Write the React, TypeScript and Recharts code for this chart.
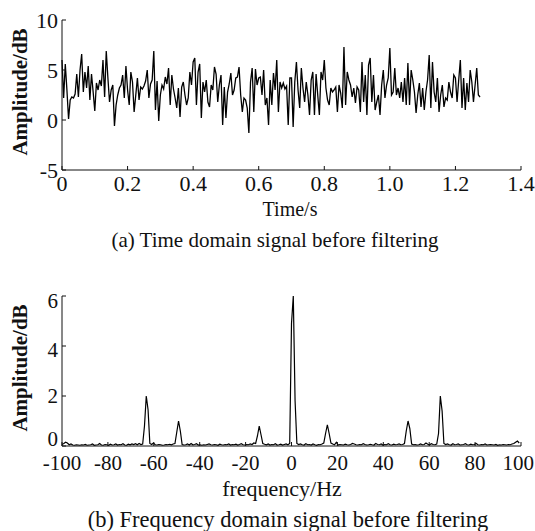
import { LineChart, Line, XAxis, YAxis } from 'recharts'

// sampled signal, 200 Hz sampling -> 0.005 s per sample
const TIME_STEP = 0.005
const TIME_VALUES = [
  6.0, 2.2, 5.6, 3.0, 0.1, 2.0, 2.3, 2.2, 2.6, 4.6, 2.3, 5.0, 6.6, 2.8, 4.8, 3.2,
  5.4, 2.0, 4.6, 2.8, 0.9, 3.7, 3.0, 4.0, 3.4, 6.0, 2.3, 6.9, 4.2, 1.8, 3.0, 3.5,
  -0.6, 1.5, 2.5, 3.2, 3.5, 4.5, 2.2, 5.4, 3.0, 1.5, 4.8, 3.8, 0.8, 2.5, 4.2, 2.0,
  3.3, 3.1, 3.4, 3.9, 5.0, 2.2, 3.6, 4.0, 6.9, 1.0, 3.9, -0.1, 2.5, 3.5, 3.1, 4.3,
  3.6, 5.2, 1.5, 4.5, 3.1, 2.2, 1.2, 3.2, 0.3, 3.3, 3.8, 2.5, 1.5, 2.2, 4.8, 3.5,
  5.8, 6.2, 1.5, 4.8, 5.6, 0.2, 3.8, 2.8, 4.0, 1.8, 1.3, 3.5, 3.0, 5.3, 4.6, 1.8,
  3.5, 4.5, -0.5, 3.3, 0.2, 2.8, 3.6, 4.7, 2.5, 3.0, 4.2, 4.3, 5.3, 2.5, 0.8, 2.2,
  2.0, 1.2, -1.3, 3.8, 5.2, 0.8, 5.1, 3.5, 4.2, 4.3, 2.5, 5.0, 1.5, 2.2, -0.5, 4.0,
  1.5, 4.7, 3.0, 6.0, 0.8, 3.8, 3.2, 3.7, 3.1, 3.4, -0.5, 4.2, 4.2, -0.7, 3.8, 5.8,
  3.0, 1.2, 5.2, 3.2, 1.8, 3.8, 2.5, 0.5, 4.0, 4.8, 0.5, 4.6, 2.5, 0.5, 4.8, 4.0,
  6.0, 3.2, 2.0, 1.5, 3.2, 2.8, 3.0, 3.3, 0.8, 3.5, 2.7, 1.2, 7.3, 1.5, 4.8, 4.0,
  3.5, 2.3, 3.2, 1.7, 3.3, 3.0, 0.8, 5.8, 1.8, 4.5, 0.5, 5.5, 6.2, 1.8, 4.5, 1.0,
  1.8, 2.5, 0.5, 3.5, 5.0, 2.2, 3.5, 4.2, 7.2, 2.5, 2.8, 5.2, 2.5, 3.2, 2.2, 3.8,
  1.8, 4.2, 1.5, 5.7, 1.5, 5.0, 4.0, 2.8, 0.7, 2.5, 3.7, 1.3, 3.2, 1.0, 2.8, 4.0,
  6.5, 1.2, 5.8, 2.8, 1.8, 4.2, 0.8, 2.5, 3.5, 1.3, 2.2, 2.0, 3.8, 2.8, 2.2, 4.5,
  4.2, 1.8, 4.0, 6.0, 1.2, 4.2, 1.0, 3.7, 1.8, 5.0, 3.8, 1.8, 3.5, 5.2, 2.5, 2.3,
]

// 256-point spectrum from -100 Hz
const FREQ_START = -100
const FREQ_STEP = 0.78125
const SPECTRUM_VALUES = [
  0.06, 0.1, 0.15, 0.12, 0.05, 0.08, 0.04, 0.03, 0.05, 0.04, 0.03, 0.05, 0.04, 0.06, 0.03, 0.04,
  0.05, 0.08, 0.03, 0.04, 0.05, 0.1, 0.04, 0.03, 0.06, 0.05, 0.03, 0.07, 0.04, 0.05, 0.08, 0.04,
  0.06, 0.05, 0.09, 0.04, 0.03, 0.07, 0.05, 0.08, 0.06, 0.09, 0.05, 0.1, 0.06, 0.08, 0.8, 2.0,
  1.45, 0.1, 0.06, 0.12, 0.05, 0.04, 0.06, 0.05, 0.03, 0.04, 0.06, 0.05, 0.07, 0.05, 0.08, 0.1,
  0.55, 1.0, 0.6, 0.06, 0.04, 0.05, 0.08, 0.04, 0.1, 0.05, 0.06, 0.09, 0.04, 0.05, 0.03, 0.05,
  0.04, 0.06, 0.08, 0.05, 0.04, 0.06, 0.05, 0.03, 0.07, 0.05, 0.04, 0.06, 0.05, 0.08, 0.04, 0.06,
  0.05, 0.07, 0.04, 0.06, 0.09, 0.05, 0.04, 0.06, 0.05, 0.08, 0.06, 0.12, 0.1, 0.4, 0.8, 0.45,
  0.1, 0.07, 0.05, 0.08, 0.04, 0.06, 0.05, 0.09, 0.04, 0.05, 0.07, 0.04, 0.06, 0.08, 0.05, 0.1,
  4.9, 6.0, 1.8, 0.1, 0.06, 0.08, 0.05, 0.04, 0.09, 0.05, 0.06, 0.04, 0.08, 0.05, 0.03, 0.06,
  0.05, 0.08, 0.12, 0.5, 0.85, 0.5, 0.12, 0.08, 0.05, 0.15, 0.04, 0.06, 0.05, 0.04, 0.07, 0.05,
  0.04, 0.06, 0.1, 0.08, 0.05, 0.04, 0.06, 0.05, 0.09, 0.06, 0.04, 0.05, 0.07, 0.05, 0.04, 0.1,
  0.06, 0.05, 0.08, 0.04, 0.06, 0.05, 0.09, 0.05, 0.04, 0.07, 0.05, 0.06, 0.08, 0.05, 0.06, 0.1,
  0.6, 1.0, 0.7, 0.08, 0.05, 0.06, 0.04, 0.05, 0.08, 0.05, 0.06, 0.12, 0.07, 0.05, 0.09, 0.06,
  0.05, 0.08, 0.5, 2.0, 1.4, 0.1, 0.06, 0.08, 0.05, 0.04, 0.09, 0.05, 0.06, 0.08, 0.04, 0.05,
  0.06, 0.09, 0.05, 0.04, 0.07, 0.05, 0.06, 0.1, 0.05, 0.04, 0.06, 0.05, 0.08, 0.04, 0.05, 0.06,
  0.05, 0.04, 0.06, 0.03, 0.05, 0.04, 0.06, 0.05, 0.04, 0.06, 0.05, 0.08, 0.1, 0.15, 0.2, 0.12,
]

const TIME_TICKS = [0, 0.2, 0.4, 0.6, 0.8, 1.0, 1.2, 1.4]
const AMP_TICKS_TOP = [-5, 0, 5, 10]
const FREQ_TICKS = [-100, -80, -60, -40, -20, 0, 20, 40, 60, 80, 100]
const AMP_TICKS_BOTTOM = [0, 2, 4, 6]

const timeData = TIME_VALUES.map((v, i) => ({ t: +(i * TIME_STEP).toFixed(3), v }))
const freqData = SPECTRUM_VALUES.map((v, i) => ({ f: FREQ_START + i * FREQ_STEP, v }))

const FONT = '"Liberation Serif", "Times New Roman", serif'
const INK = '#111'
const tickStyle = { fill: INK, fontSize: 22, fontFamily: FONT }

// the lower plot's y labels are a bit off their ticks in the original
const BOTTOM_LIFT: Record<number, number> = { 6: -5, 4: -4, 2: 0, 0: 7 }

const YTick = (props: any) => {
  const { x, y, payload, lifts, size = 22 } = props
  const lift = lifts ? lifts[payload.value] ?? 0 : 0
  return (
    <text x={x} y={y - lift} textAnchor="end" dominantBaseline="central" fill={INK} fontSize={size} fontFamily={FONT}>
      {payload.value}
    </text>
  )
}

// frequency ticks: keep the last label inside the picture
const FreqTick = (props: any) => {
  const { x, y, payload } = props
  const last = payload.value === 100
  return (
    <text
      x={last ? 534 : x}
      y={y}
      dy="0.71em"
      textAnchor={last ? 'end' : 'middle'}
      fill={INK}
      fontSize={21}
      fontFamily={FONT}
    >
      {payload.value}
    </text>
  )
}

const label = (cx: number, top: number, size: number): React.CSSProperties => ({
  position: 'absolute',
  top,
  left: cx - 300,
  width: 600,
  textAlign: 'center',
  color: INK,
  fontFamily: FONT,
  fontSize: size,
  lineHeight: 1,
  whiteSpace: 'nowrap',
})

function YLabel({ cy }: { cy: number }) {
  return (
    <div
      style={{
        position: 'absolute',
        left: 20,
        top: cy,
        transform: 'translate(-50%, -50%) rotate(-90deg)',
        whiteSpace: 'nowrap',
        fontFamily: FONT,
        fontSize: 21,
        fontWeight: 'bold',
        color: INK,
        lineHeight: 1,
      }}
    >
      Amplitude/dB
    </div>
  )
}

export default function App() {
  return (
    <div style={{ position: 'absolute', left: 0, top: 0, width: 535, height: 531, background: '#fff', overflow: 'hidden' }}>
      <div style={{ position: 'absolute', left: 0, top: 0 }}>
        <LineChart width={535} height={200} data={timeData} margin={{ top: 20, right: 14, bottom: 0, left: 22 }}>
          <XAxis
            dataKey="t"
            type="number"
            domain={[0, 1.4]}
            ticks={TIME_TICKS}
            tickFormatter={(v: number) => (v === 0 ? '0' : v.toFixed(1))}
            height={30}
            stroke={INK}
            tickSize={-4}
            tickMargin={9}
            tick={tickStyle}
            interval={0}
          />
          <YAxis
            type="number"
            domain={[-5, 10]}
            ticks={AMP_TICKS_TOP}
            width={40}
            stroke={INK}
            tickSize={-4}
            tickMargin={8}
            tick={<YTick />}
            interval={0}
          />
          <Line type="linear" dataKey="v" stroke="#000" strokeWidth={1.3} dot={false} isAnimationActive={false} />
        </LineChart>
      </div>
      <YLabel cy={92} />
      <div style={label(290, 199, 20)}>Time/s</div>
      <div style={label(275, 230, 21)}>(a) Time domain signal before filtering</div>

      <div style={{ position: 'absolute', left: 0, top: 250 }}>
        <LineChart width={535} height={226} data={freqData} margin={{ top: 46, right: 14, bottom: 0, left: 22 }}>
          <XAxis
            dataKey="f"
            type="number"
            domain={[-100, 100]}
            ticks={FREQ_TICKS}
            height={30}
            stroke={INK}
            tickSize={-4}
            tickMargin={13}
            tick={<FreqTick />}
            interval={0}
          />
          <YAxis
            type="number"
            domain={[0, 6]}
            ticks={AMP_TICKS_BOTTOM}
            width={40}
            stroke={INK}
            tickSize={-4}
            tickMargin={8}
            tick={<YTick lifts={BOTTOM_LIFT} size={21} />}
            interval={0}
          />
          <Line type="linear" dataKey="v" stroke="#000" strokeWidth={1.2} dot={false} isAnimationActive={false} />
        </LineChart>
      </div>
      <YLabel cy={368} />
      <div style={label(282, 478, 22)}>frequency/Hz</div>
      <div style={label(288, 509, 22.5)}>(b) Frequency domain signal before filtering</div>
    </div>
  )
}
